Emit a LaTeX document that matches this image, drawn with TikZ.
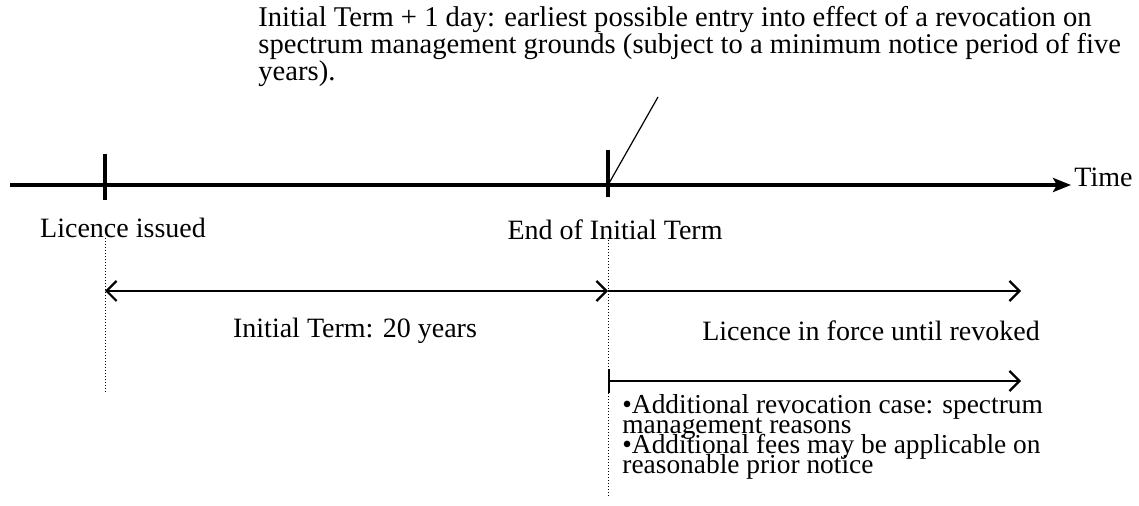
\documentclass[tikz,border=0pt]{standalone}
\usepackage{fontspec}
\setmainfont{Liberation Serif}
\usetikzlibrary{arrows.meta}
\newcommand\tightlines{\lineskiplimit=-100pt\relax\lineskip=0pt\relax}

\begin{document}
\begin{tikzpicture}[
  x=0.5pt,y=-0.5pt,
  axis/.style={line width=2pt},
  tick/.style={line width=2pt},
  span/.style={line width=1.1pt},
  guide/.style={densely dotted,line width=0.5pt},
  label/.style={font=\fontsize{14}{13.5}\selectfont,inner sep=0pt},
  remarkbox/.style={font=\fontsize{14.3}{13.5}\selectfont,inner sep=0pt,align=left},
  note/.style={font=\fontsize{13.7}{9.8}\selectfont\tightlines,inner sep=0pt,align=left}
]
  \useasboundingbox (0,0) rectangle (1139,506);

  % time axis with the two marks
  \coordinate (axL) at (10,185);
  \coordinate (axR) at (1071,185);
  \coordinate (issue) at (105,185);
  \coordinate (endterm) at (608,185);
  \draw[axis,-{Stealth[length=9pt,width=7pt,inset=2pt]}] (axL) -- (axR);
  \node[label,anchor=west] (time) at (1074,177) {Time};
  \draw[tick] (105,154) -- (105,200);
  \draw[tick] (608,150) -- (608,197);

  \node[label] (issued) at (123,228) {Licence issued};
  \node[label] (endlbl) at (615,230) {End of Initial Term};

  % dotted guides
  \draw[guide] (105,238) -- (105,392);
  \draw[guide] (608,240) -- (608,498);

  % durations
  \coordinate (spA) at (105,291);
  \coordinate (spB) at (608,291);
  \coordinate (spC) at (1021,291);
  \draw[span,{Straight Barb[length=5pt,width=10pt]}-{Straight Barb[length=5pt,width=10pt]}] (spA) -- (spB);
  \draw[span,-{Straight Barb[length=5pt,width=10pt]}] (spB) -- (spC);
  \node[label] (initial) at (355,331) {Initial Term: 20 years};
  \node[label] (inforce) at (871,331) {Licence in force until revoked};

  \coordinate (revA) at (608,381);
  \coordinate (revB) at (1021,381);
  \draw[span,{Bar[width=12pt]}-{Straight Barb[length=5pt,width=10pt]}] (revA) -- (revB);
  \node[note,anchor=north west] (cases) at (622,394)
    {\textbullet Additional revocation case: spectrum\\management reasons\\[0.6pt]
     \textbullet Additional fees may be applicable on\\reasonable prior notice};

  % remark on revocation date
  \node[remarkbox,anchor=north west] (remark) at (258,6)
    {Initial Term + 1 day: earliest possible entry into effect of a revocation on\\
     spectrum management grounds (subject to a minimum notice period of five\\
     years).};
  \coordinate (pointer) at (658,97);
  \draw[line width=0.6pt] (endterm) -- (pointer);
\end{tikzpicture}
\end{document}
